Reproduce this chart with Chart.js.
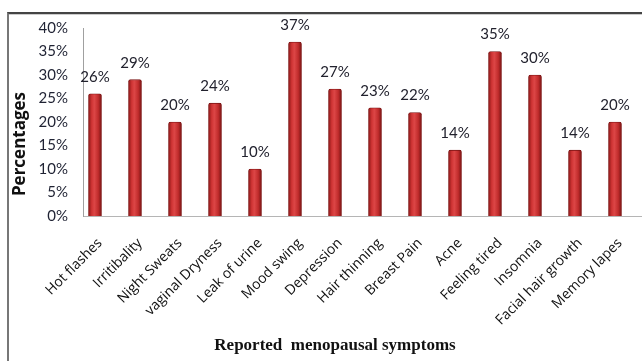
<!DOCTYPE html>
<html>
<head>
<meta charset="utf-8">
<script src="https://cdn.jsdelivr.net/npm/chart.js@4"></script>
<style>
    body { margin: 0; background: #fff; overflow: hidden; }
    #frame {
        position: absolute; left: 7px; top: 12px; width: 700px; height: 400px;
        border-left: 2px solid #777; border-top: 2px solid #444;
        box-shadow: inset 0 1px 0 #ccc;
    }
    #symptomChart { position: absolute; left: 0; top: 0; }
</style>
</head>
<body>
<div id="frame"></div>
<canvas id="symptomChart" width="642" height="361"></canvas>
<script>
const symptoms = ["Hot flashes", "Irritibality", "Night Sweats", "vaginal Dryness", "Leak of urine", "Mood swing", "Depression", "Hair thinning", "Breast Pain", "Acne", "Feeling tired", "Insomnia", "Facial hair growth", "Memory lapes"];
const percentages = [26, 29, 20, 24, 10, 37, 27, 23, 22, 14, 35, 30, 14, 20];
const yTicks = [0, 5, 10, 15, 20, 25, 30, 35, 40];

const yTitle = "Percentages";
const xTitle = "Reported  menopausal symptoms";

// red cylinder look: dark edges, bright centre
function barFill(ctx) {
    const chart = ctx.chart;
    const xs = chart.scales.x;
    const cx = xs ? xs.getPixelForValue(ctx.dataIndex) : NaN;
    if (!isFinite(cx)) return "#c33030";
    const g = chart.ctx.createLinearGradient(cx - 6.5, 0, cx + 6.5, 0);
    g.addColorStop(0, "#8a1818");
    g.addColorStop(0.25, "#cf3434");
    g.addColorStop(0.45, "#dc4646");
    g.addColorStop(0.75, "#c02c2c");
    g.addColorStop(1, "#7a1414");
    return g;
}

const valueLabels = {
    id: "valueLabels",
    afterDatasetsDraw(chart) {
        const ctx = chart.ctx;
        ctx.save();
        ctx.font = "15px Lato";
        ctx.fillStyle = "#22222e";
        ctx.textAlign = "center";
        ctx.textBaseline = "middle";
        chart.getDatasetMeta(0).data.forEach(function (bar, i) {
            ctx.fillText(percentages[i] + "%", bar.x, bar.y - 17);
        });
        ctx.restore();
    }
};

const axisTitles = {
    id: "axisTitles",
    afterDraw(chart) {
        const ctx = chart.ctx;
        ctx.save();
        ctx.fillStyle = "#111";
        ctx.textAlign = "center";
        ctx.textBaseline = "middle";
        ctx.font = "bold 17px 'Open Sans'";
        ctx.translate(20, 144);
        ctx.rotate(-Math.PI / 2);
        ctx.fillText(yTitle, 0, 0);
        ctx.restore();

        ctx.save();
        ctx.fillStyle = "#111";
        ctx.textAlign = "center";
        ctx.textBaseline = "middle";
        ctx.font = "bold 17px 'Liberation Serif'";
        ctx.fillText(xTitle, 335, 346);
        ctx.restore();
    }
};

new Chart("symptomChart", {
    type: "bar",
    data: {
        datasets: [{
            data: percentages.map((v, i) => ({ x: i, y: v })),
            backgroundColor: barFill,
            borderColor: "#7a1414",
            borderWidth: 0.8,
            borderRadius: { topLeft: 2, topRight: 2 },
            borderSkipped: "bottom",
            barThickness: 13
        }]
    },
    options: {
        responsive: false,
        animation: false,
        devicePixelRatio: 1,
        layout: { padding: { left: 0, top: 28, right: 0, bottom: 0 } },
        plugins: {
            legend: { display: false },
            tooltip: { enabled: false }
        },
        scales: {
            x: {
                type: "linear",
                offset: false,
                min: -0.3,
                max: 13.675,
                grid: { display: false, drawTicks: false },
                border: { display: true, color: "#b5b5b5", width: 1 },
                afterBuildTicks: function (scale) {
                    scale.ticks = symptoms.map((_, i) => ({ value: i }));
                },
                afterFit: function (scale) {
                    scale.height = 145;
                    scale.paddingRight = 0;
                },
                ticks: {
                    autoSkip: false,
                    maxRotation: 45,
                    minRotation: 45,
                    padding: 19,
                    labelOffset: 5,
                    color: "#111",
                    font: { family: "Open Sans", size: 14 },
                    callback: (v) => symptoms[v]
                }
            },
            y: {
                min: 0,
                max: 40,
                grid: { display: false, drawTicks: false },
                border: { display: true, color: "#a0a0a0", width: 1 },
                afterBuildTicks: function (scale) {
                    scale.ticks = yTicks.map(v => ({ value: v }));
                },
                afterFit: function (scale) { scale.width = 83; },
                ticks: {
                    padding: 15,
                    color: "#1f2233",
                    font: { family: "Lato", size: 15 },
                    callback: (v) => v + "%"
                }
            }
        }
    },
    plugins: [valueLabels, axisTitles]
});
</script>
</body>
</html>
